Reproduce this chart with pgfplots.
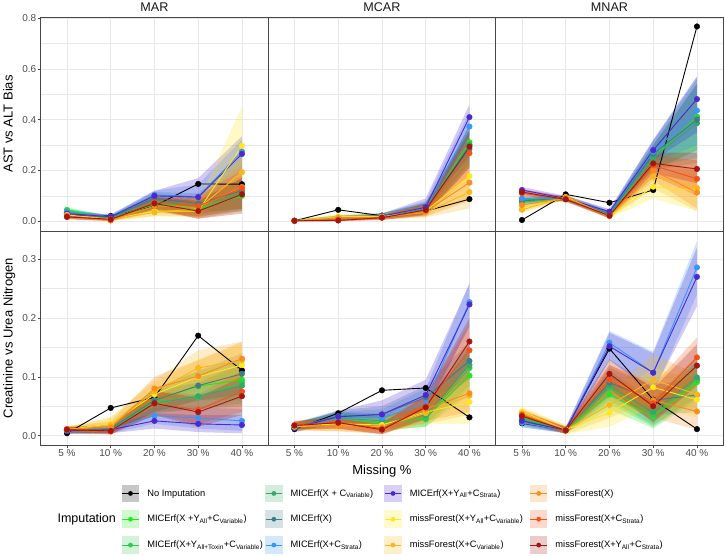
\documentclass[border=0pt]{standalone}
\usepackage{pgfplots}
\pgfplotsset{compat=1.18}
\usepackage{pgfplotstable}
\usepgfplotslibrary{fillbetween}
\usepackage{fontspec}
\setmainfont{Liberation Sans}

% one colour per imputation method
\definecolor{c0}{HTML}{000000}
\definecolor{c1}{HTML}{22E622}
\definecolor{c2}{HTML}{30C850}
\definecolor{c3}{HTML}{35A86A}
\definecolor{c4}{HTML}{3F7D8A}
\definecolor{c5}{HTML}{3A96F5}
\definecolor{c6}{HTML}{4B28D2}
\definecolor{c7}{HTML}{FFE91A}
\definecolor{c8}{HTML}{F9B71C}
\definecolor{c9}{HTML}{FA8C1E}
\definecolor{c10}{HTML}{F5501A}
\definecolor{c11}{HTML}{A5150F}

\newcommand\sub[1]{\textsubscript{#1}}

% x: 1=5%, 2=10%, 3=20%, 4=30%, 5=40% missing
% s0 No Imputation, s1..s6 MICErf variants, s7..s11 missForest variants
% ---------------- AST vs ALT Bias, MAR
\pgfplotstableread{
x s0 s1 s2 s3 s4 s5 s6 s7 s8 s9 s10 s11
1 0.025 0.045 0.040 0.035 0.030 0.037 0.030 0.025 0.022 0.020 0.020 0.017
2 0.021 0.012 0.012 0.014 0.015 0.018 0.018 0.008 0.006 0.003 0.006 0.008
3 0.060 0.070 0.065 0.080 0.090 0.104 0.100 0.040 0.035 0.060 0.075 0.070
4 0.147 0.050 0.045 0.060 0.070 0.097 0.095 0.040 0.050 0.055 0.060 0.040
5 0.146 0.100 0.105 0.110 0.120 0.275 0.265 0.297 0.193 0.135 0.130 0.106
}\tAy
\pgfplotstableread{
x s1 s2 s3 s4 s5 s6 s7 s8 s9 s10 s11
1 0.030 0.028 0.025 0.020 0.027 0.020 0.015 0.012 0.010 0.010 0.007
2 0.004 0.004 0.006 0.007 0.010 0.010 0.002 0.000 0.000 0.000 0.002
3 0.040 0.040 0.050 0.060 0.085 0.080 0.020 0.020 0.035 0.050 0.045
4 0.020 0.020 0.030 0.035 0.060 0.050 0.015 0.020 0.015 0.010 0.010
5 0.040 0.045 0.050 0.050 0.200 0.200 0.150 0.100 0.050 0.040 0.030
}\tAl
\pgfplotstableread{
x s1 s2 s3 s4 s5 s6 s7 s8 s9 s10 s11
1 0.055 0.052 0.045 0.040 0.047 0.040 0.035 0.032 0.030 0.030 0.027
2 0.020 0.020 0.022 0.023 0.026 0.026 0.015 0.012 0.010 0.012 0.015
3 0.095 0.090 0.105 0.115 0.120 0.120 0.065 0.060 0.085 0.100 0.095
4 0.085 0.080 0.095 0.110 0.145 0.170 0.080 0.090 0.095 0.100 0.080
5 0.170 0.170 0.180 0.260 0.320 0.335 0.450 0.250 0.220 0.200 0.170
}\tAu
% ---------------- AST vs ALT Bias, MCAR
\pgfplotstableread{
x s0 s1 s2 s3 s4 s5 s6 s7 s8 s9 s10 s11
1 0.002 0.002 0.002 0.002 0.002 0.002 0.002 0.002 0.002 0.002 0.002 0.002
2 0.045 0.012 0.012 0.014 0.015 0.015 0.013 0.018 0.016 0.012 0.005 0.003
3 0.022 0.020 0.020 0.022 0.022 0.020 0.020 0.018 0.017 0.015 0.015 0.014
4 0.040 0.045 0.045 0.048 0.050 0.052 0.055 0.040 0.035 0.038 0.042 0.045
5 0.087 0.311 0.300 0.302 0.285 0.373 0.410 0.178 0.115 0.152 0.268 0.294
}\tBy
\pgfplotstableread{
x s1 s2 s3 s4 s5 s6 s7 s8 s9 s10 s11
1 0.000 0.000 0.000 0.000 0.000 0.000 0.000 0.000 0.000 0.000 0.000
2 0.005 0.005 0.006 0.007 0.007 0.006 0.008 0.006 0.004 0.000 0.000
3 0.010 0.010 0.012 0.012 0.010 0.010 0.008 0.007 0.006 0.006 0.005
4 0.025 0.025 0.028 0.030 0.030 0.030 0.020 0.015 0.018 0.022 0.025
5 0.230 0.220 0.230 0.210 0.300 0.340 0.090 0.050 0.080 0.180 0.210
}\tBl
\pgfplotstableread{
x s1 s2 s3 s4 s5 s6 s7 s8 s9 s10 s11
1 0.005 0.005 0.005 0.005 0.005 0.005 0.005 0.005 0.005 0.005 0.005
2 0.020 0.020 0.022 0.022 0.022 0.020 0.028 0.026 0.020 0.012 0.010
3 0.030 0.030 0.032 0.032 0.030 0.030 0.028 0.027 0.025 0.025 0.024
4 0.070 0.070 0.070 0.075 0.080 0.090 0.065 0.060 0.060 0.065 0.070
5 0.370 0.360 0.370 0.350 0.430 0.460 0.250 0.200 0.230 0.340 0.360
}\tBu
% ---------------- AST vs ALT Bias, MNAR
\pgfplotstableread{
x s0 s1 s2 s3 s4 s5 s6 s7 s8 s9 s10 s11
1 0.005 0.080 0.075 0.084 0.080 0.090 0.123 0.050 0.045 0.064 0.110 0.115
2 0.106 0.090 0.090 0.092 0.092 0.092 0.090 0.095 0.095 0.092 0.088 0.086
3 0.073 0.025 0.025 0.028 0.030 0.035 0.038 0.020 0.020 0.022 0.022 0.022
4 0.123 0.250 0.250 0.250 0.265 0.274 0.280 0.136 0.176 0.200 0.220 0.228
5 0.767 0.412 0.410 0.386 0.400 0.436 0.481 0.120 0.132 0.113 0.167 0.206
}\tCy
\pgfplotstableread{
x s1 s2 s3 s4 s5 s6 s7 s8 s9 s10 s11
1 0.068 0.063 0.072 0.068 0.078 0.111 0.038 0.033 0.052 0.098 0.103
2 0.080 0.080 0.082 0.082 0.082 0.080 0.085 0.085 0.082 0.078 0.076
3 0.015 0.015 0.018 0.020 0.025 0.028 0.010 0.010 0.012 0.012 0.012
4 0.200 0.200 0.200 0.215 0.230 0.240 0.090 0.130 0.160 0.180 0.190
5 0.280 0.280 0.230 0.250 0.300 0.350 0.040 0.040 0.050 0.100 0.150
}\tCl
\pgfplotstableread{
x s1 s2 s3 s4 s5 s6 s7 s8 s9 s10 s11
1 0.092 0.087 0.096 0.092 0.102 0.135 0.062 0.057 0.076 0.122 0.127
2 0.100 0.100 0.102 0.102 0.102 0.100 0.105 0.105 0.102 0.098 0.096
3 0.035 0.035 0.038 0.040 0.045 0.048 0.030 0.030 0.032 0.032 0.032
4 0.300 0.300 0.300 0.315 0.320 0.320 0.180 0.220 0.240 0.260 0.270
5 0.540 0.540 0.540 0.560 0.570 0.570 0.200 0.250 0.200 0.240 0.270
}\tCu
% ---------------- Creatinine vs Urea Nitrogen, MAR
\pgfplotstableread{
x s0 s1 s2 s3 s4 s5 s6 s7 s8 s9 s10 s11
1 0.004 0.009 0.009 0.009 0.008 0.008 0.008 0.010 0.010 0.011 0.011 0.010
2 0.047 0.012 0.010 0.010 0.012 0.010 0.010 0.020 0.018 0.014 0.007 0.008
3 0.065 0.060 0.058 0.055 0.060 0.034 0.025 0.070 0.075 0.080 0.054 0.055
4 0.170 0.084 0.065 0.067 0.085 0.030 0.020 0.100 0.115 0.101 0.044 0.040
5 0.111 0.095 0.090 0.085 0.105 0.025 0.018 0.120 0.128 0.131 0.075 0.067
}\tDy
\pgfplotstableread{
x s1 s2 s3 s4 s5 s6 s7 s8 s9 s10 s11
1 0.004 0.004 0.004 0.003 0.003 0.003 0.005 0.005 0.006 0.006 0.005
2 0.005 0.004 0.004 0.005 0.004 0.004 0.008 0.006 0.004 0.002 0.002
3 0.040 0.040 0.038 0.040 0.020 0.012 0.050 0.055 0.060 0.035 0.035
4 0.060 0.045 0.045 0.060 0.012 0.006 0.070 0.085 0.075 0.020 0.015
5 0.060 0.055 0.050 0.070 0.008 0.004 0.085 0.095 0.100 0.040 0.035
}\tDl
\pgfplotstableread{
x s1 s2 s3 s4 s5 s6 s7 s8 s9 s10 s11
1 0.014 0.014 0.014 0.013 0.013 0.013 0.015 0.015 0.016 0.016 0.015
2 0.020 0.018 0.018 0.020 0.018 0.018 0.032 0.030 0.024 0.014 0.015
3 0.080 0.078 0.075 0.080 0.048 0.038 0.090 0.095 0.100 0.075 0.075
4 0.110 0.090 0.090 0.110 0.048 0.035 0.130 0.145 0.128 0.070 0.065
5 0.130 0.125 0.120 0.140 0.045 0.035 0.155 0.160 0.160 0.110 0.100
}\tDu
% ---------------- Creatinine vs Urea Nitrogen, MCAR
\pgfplotstableread{
x s0 s1 s2 s3 s4 s5 s6 s7 s8 s9 s10 s11
1 0.011 0.015 0.015 0.014 0.015 0.013 0.013 0.016 0.015 0.017 0.018 0.017
2 0.038 0.030 0.030 0.030 0.033 0.030 0.032 0.020 0.018 0.017 0.022 0.022
3 0.077 0.020 0.022 0.025 0.036 0.030 0.036 0.018 0.015 0.012 0.012 0.010
4 0.081 0.030 0.028 0.035 0.065 0.055 0.069 0.040 0.038 0.045 0.050 0.048
5 0.031 0.102 0.115 0.120 0.127 0.227 0.223 0.057 0.068 0.072 0.145 0.160
}\tEy
\pgfplotstableread{
x s1 s2 s3 s4 s5 s6 s7 s8 s9 s10 s11
1 0.008 0.008 0.007 0.008 0.006 0.006 0.009 0.008 0.010 0.011 0.010
2 0.020 0.020 0.020 0.023 0.020 0.022 0.010 0.008 0.007 0.012 0.012
3 0.008 0.010 0.012 0.022 0.018 0.022 0.006 0.004 0.003 0.003 0.002
4 0.015 0.015 0.020 0.045 0.035 0.045 0.020 0.020 0.025 0.030 0.028
5 0.070 0.080 0.085 0.095 0.190 0.185 0.020 0.035 0.040 0.100 0.120
}\tEl
\pgfplotstableread{
x s1 s2 s3 s4 s5 s6 s7 s8 s9 s10 s11
1 0.022 0.022 0.021 0.022 0.020 0.020 0.023 0.022 0.024 0.025 0.024
2 0.040 0.040 0.040 0.043 0.040 0.042 0.030 0.028 0.027 0.032 0.032
3 0.032 0.034 0.038 0.050 0.045 0.060 0.030 0.026 0.022 0.022 0.020
4 0.050 0.050 0.055 0.085 0.080 0.095 0.060 0.058 0.065 0.070 0.068
5 0.140 0.150 0.155 0.160 0.260 0.258 0.095 0.110 0.110 0.190 0.200
}\tEu
% ---------------- Creatinine vs Urea Nitrogen, MNAR
\pgfplotstableread{
x s0 s1 s2 s3 s4 s5 s6 s7 s8 s9 s10 s11
1 0.021 0.028 0.030 0.028 0.022 0.022 0.025 0.041 0.038 0.036 0.035 0.033
2 0.010 0.009 0.009 0.009 0.009 0.009 0.009 0.010 0.010 0.009 0.009 0.009
3 0.148 0.070 0.081 0.085 0.090 0.158 0.152 0.039 0.052 0.095 0.095 0.105
4 0.061 0.032 0.035 0.040 0.060 0.107 0.107 0.082 0.095 0.060 0.055 0.050
5 0.011 0.091 0.095 0.099 0.069 0.286 0.270 0.061 0.070 0.041 0.133 0.119
}\tFy
\pgfplotstableread{
x s1 s2 s3 s4 s5 s6 s7 s8 s9 s10 s11
1 0.020 0.022 0.020 0.014 0.014 0.017 0.033 0.030 0.028 0.027 0.025
2 0.004 0.004 0.004 0.004 0.004 0.004 0.002 0.002 0.003 0.003 0.003
3 0.045 0.055 0.060 0.065 0.130 0.128 0.015 0.030 0.070 0.070 0.080
4 0.012 0.015 0.018 0.035 0.072 0.075 0.050 0.060 0.030 0.025 0.022
5 0.060 0.065 0.065 0.040 0.240 0.220 0.030 0.040 0.010 0.095 0.085
}\tFl
\pgfplotstableread{
x s1 s2 s3 s4 s5 s6 s7 s8 s9 s10 s11
1 0.036 0.038 0.036 0.030 0.030 0.033 0.049 0.046 0.044 0.043 0.041
2 0.014 0.014 0.014 0.014 0.014 0.014 0.018 0.018 0.015 0.015 0.015
3 0.095 0.105 0.110 0.115 0.178 0.175 0.065 0.075 0.120 0.120 0.130
4 0.055 0.058 0.062 0.085 0.143 0.140 0.115 0.138 0.090 0.085 0.080
5 0.125 0.128 0.135 0.100 0.331 0.320 0.095 0.105 0.075 0.167 0.155
}\tFu

\pgfplotsset{
  /pgf/number format/assume math mode=true,
  every axis title shift=0pt,
  facet/.style={
    anchor=south west, scale only axis, width=227.5pt, height=214pt,
    xmin=0.4, xmax=5.6, xtick={1,2,3,4,5},
    xticklabels={5 \%,10 \%,20 \%,30 \%,40 \%},
    axis line style={black!72, line width=0.6pt},
    tick pos=left, tick align=outside,
    major tick length=2.75pt, minor tick length=0pt,
    tick style={black!72, line width=0.5pt},
    xmajorgrids=true, ymajorgrids=true, yminorgrids=true,
    minor y tick num=1,
    major grid style={black!9, line width=0.55pt},
    minor grid style={black!9, line width=0.3pt},
    tick label style={font=\fontsize{10}{12}\selectfont, text=black!70},
    xticklabel style={inner sep=2pt},
    yticklabel style={inner sep=1.5pt, /pgf/number format/fixed,
      /pgf/number format/fixed zerofill, /pgf/number format/precision=1},
    title style={at={(axis description cs:0.5,1)}, anchor=base, yshift=5pt,
      font=\fontsize{12.6}{14}\selectfont, text=black!90},
    ylabel style={at={(axis description cs:-0.123,0.5)}, anchor=base,
      font=\fontsize{13}{15}\selectfont},
    xlabel style={at={(axis description cs:0.5,0)}, anchor=base, yshift=-30pt,
      font=\fontsize{13}{15}\selectfont},
  },
  toprow/.style={ymin=-0.0383, ymax=0.8043, ytick={0,0.2,0.4,0.6,0.8},
    xticklabels={}, major x tick style={draw=none}},
  botrow/.style={ymin=-0.016, ymax=0.348, ytick={0,0.1,0.2,0.3}},
  inner/.style={yticklabels={}, major y tick style={draw=none}},
  keyimg/.style={legend image code/.code={
      \path[draw=none, fill, fill opacity=0.22] (0pt,-8.75pt) rectangle (17.5pt,8.75pt);
      \draw[line width=0.9pt] (0.4pt,0pt) -- (17.1pt,0pt);
      \path[draw=none, fill] (8.75pt,0pt) circle (2.4pt);}},
}

% confidence ribbons of the eleven imputation methods
\newcommand\bands[2]{%
  \pgfplotsinvokeforeach{1,...,11}{%
    \addplot[draw=none, name path=lo##1, forget plot] table[x=x, y=s##1] {#1};
    \addplot[draw=none, name path=hi##1, forget plot] table[x=x, y=s##1] {#2};
    \addplot[fill=c##1, fill opacity=0.25, draw=none, forget plot]
      fill between[of=lo##1 and hi##1];
  }}
% mean lines, then points, for all twelve series
\newcommand\curves[1]{%
  \pgfplotsinvokeforeach{0,...,11}{%
    \addplot[c##1, line width=0.9pt, mark=none, forget plot] table[x=x, y=s##1] {#1};
  }
  \pgfplotsinvokeforeach{0,...,11}{%
    \addplot[c##1, only marks, mark=*, mark size=2.8pt, forget plot] table[x=x, y=s##1] {#1};
  }}

\begin{document}
\begin{tikzpicture}

% top row: AST vs ALT Bias
\begin{axis}[facet, toprow, at={(40.7pt,325pt)}, title={MAR}, ylabel={AST vs ALT Bias}]
\bands\tAl\tAu
\curves\tAy
\end{axis}
\begin{axis}[facet, toprow, inner, at={(268.2pt,325pt)}, title={MCAR}]
\bands\tBl\tBu
\curves\tBy
\end{axis}
\begin{axis}[facet, toprow, inner, at={(495.7pt,325pt)}, title={MNAR}]
\bands\tCl\tCu
\curves\tCy
\end{axis}

% bottom row: Creatinine vs Urea Nitrogen (the legend hangs below the first panel)
\begin{axis}[facet, botrow, at={(40.7pt,111pt)}, ylabel={Creatinine vs Urea Nitrogen},
  legend columns=4, legend cell align=left,
  legend style={at={(axis description cs:0.35604,-0.18551)}, anchor=north west,
    draw=none, fill=none, inner sep=0pt, outer sep=0pt, row sep=8.3pt, column sep=0pt,
    nodes={inner sep=0pt, outer sep=0pt}, font=\fontsize{9.3}{11}\selectfont,
    /tikz/every odd column/.append style={column sep=8pt}}]
\bands\tDl\tDu
\curves\tDy
\addlegendimage{keyimg, color=c0}
\addlegendentry{\makebox[117.8pt][l]{No Imputation}}
\addlegendimage{keyimg, color=c3}
\addlegendentry{\makebox[93.5pt][l]{MICErf(X + C\sub{Variable})}}
\addlegendimage{keyimg, color=c6}
\addlegendentry{\makebox[120.1pt][l]{MICErf(X+Y\sub{All}+C\sub{Strata})}}
\addlegendimage{keyimg, color=c9}
\addlegendentry{missForest(X)}
\addlegendimage{keyimg, color=c1}
\addlegendentry{\makebox[117.8pt][l]{MICErf(X +Y\sub{All}+C\sub{Variable})}}
\addlegendimage{keyimg, color=c4}
\addlegendentry{\makebox[93.5pt][l]{MICErf(X)}}
\addlegendimage{keyimg, color=c7}
\addlegendentry{\makebox[120.1pt][l]{missForest(X+Y\sub{All}+C\sub{Variable})}}
\addlegendimage{keyimg, color=c10}
\addlegendentry{missForest(X+C\sub{Strata})}
\addlegendimage{keyimg, color=c2}
\addlegendentry{\makebox[117.8pt][l]{MICErf(X+Y\sub{All+Toxin}+C\sub{Variable})}}
\addlegendimage{keyimg, color=c5}
\addlegendentry{\makebox[93.5pt][l]{MICErf(X+C\sub{Strata})}}
\addlegendimage{keyimg, color=c8}
\addlegendentry{\makebox[120.1pt][l]{missForest(X+C\sub{Variable})}}
\addlegendimage{keyimg, color=c11}
\addlegendentry{missForest(X+Y\sub{All}+C\sub{Strata})}
\end{axis}
\begin{axis}[facet, botrow, inner, at={(268.2pt,111pt)}, xlabel={Missing \%}]
\bands\tEl\tEu
\curves\tEy
\end{axis}
\begin{axis}[facet, botrow, inner, at={(495.7pt,111pt)}]
\bands\tFl\tFu
\curves\tFy
\end{axis}

\node[anchor=base west, font=\fontsize{12.5}{14}\selectfont] at (54pt,33pt) {Imputation};

% the page is exactly the figure area
\pgfresetboundingbox
\useasboundingbox (0pt,0pt) rectangle (725pt,556pt);
\end{tikzpicture}
\end{document}
